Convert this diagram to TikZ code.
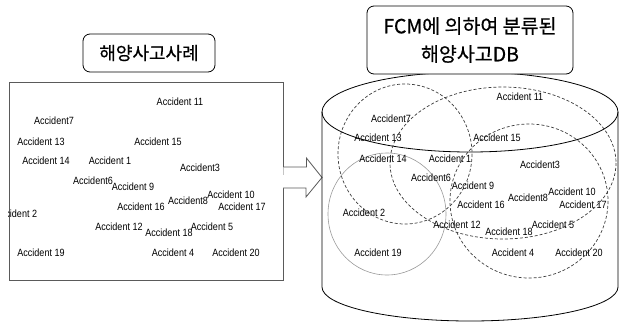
\documentclass[tikz,border=0pt]{standalone}
\usepackage{fontspec}
\newfontfamily\accfont[FakeStretch=0.86]{Liberation Sans}
\newfontfamily\krfont[FakeBold=0.6]{Noto Sans CJK KR}
\definecolor{framegray}{HTML}{5A5A5A}
\definecolor{clustergray}{HTML}{3C3C3C}
\definecolor{ringgray}{HTML}{9A9A9A}
\tikzset{
  acc/.style={font=\accfont\fontsize{10.5}{12}\selectfont, inner sep=0pt},
  titlebox/.style={draw, thick, rounded corners=7pt, fill=white, align=center,
    font=\krfont, inner sep=2pt},
  cluster/.style={clustergray, dash pattern=on 3pt off 2pt, line width=0.7pt},
}
\begin{document}
\begin{tikzpicture}[x=1pt, y=-1pt, line width=0.8pt]
  \useasboundingbox (0,0) rectangle (627,322);

  % left panel: accident cases
  \node[draw=framegray, minimum width=274pt, minimum height=198pt, inner sep=0pt] (cases) at (146,181) {};
  \begin{scope}
    \clip (cases.south west) rectangle (cases.north east);
    \foreach \n/\t/\x/\y in {11/Accident 11/180/102, 7/Accident7/54/121, 13/Accident 13/41/142,
        15/Accident 15/158/142, 14/Accident 14/46/161, 1/Accident 1/110/161, 3/Accident3/200/168,
        6/Accident6/93/181, 9/Accident 9/133/187, 8/Accident8/188/201, 10/Accident 10/231/195,
        16/Accident 16/141/207, 17/Accident 17/242/207, 2/Accident 2/16/214, 12/Accident 12/119/227,
        18/Accident 18/169/233, 5/Accident 5/212/227, 19/Accident 19/41/253, 4/Accident 4/173/253,
        20/Accident 20/236/253}
      \node[acc] (L\n) at (\x,\y) {\t};
  \end{scope}
  \node[titlebox, minimum width=132pt, minimum height=38pt, font=\krfont\fontsize{18}{20}\selectfont] (casesTitle) at (149,53) {해양사고사례};

  % block arrow
  \coordinate (arrTail) at (cases.east |- 0,177.5);
  \draw[framegray, fill=white] (arrTail) ++(0,-10.5) -- ++(23,0) -- ++(0,-9) -- (322,177.5)
    -- (306,197) -- ++(0,-9) -- ++(-23,0);

  % right panel: database cylinder
  \draw (322,112) -- (322,287) arc[start angle=180, end angle=0, x radius=148, y radius=34] -- (618,112);
  \draw (470,112) ellipse [x radius=148, y radius=40];

  % clusters
  \draw[cluster] (405,154) ellipse [x radius=67, y radius=70];
  \draw[cluster] (503,163) ellipse [x radius=113, y radius=76];
  \draw[cluster] (529,201) ellipse [x radius=79, y radius=77];
  \draw[ringgray, line width=0.6pt] (387,214) ellipse [x radius=59, y radius=61];

  \foreach \n/\t/\x/\y in {11/Accident 11/520/97, 7/Accident7/391/119, 13/Accident 13/378/138,
      15/Accident 15/497/138, 14/Accident 14/383/159, 1/Accident 1/450/159, 3/Accident3/540/165,
      6/Accident6/431/178, 9/Accident 9/473/186, 10/Accident 10/572/192, 8/Accident8/528/198,
      16/Accident 16/481/205, 17/Accident 17/583/205, 2/Accident 2/364/213, 12/Accident 12/457/225,
      18/Accident 18/509/232, 5/Accident 5/553/225, 19/Accident 19/378/253, 4/Accident 4/513/253,
      20/Accident 20/579/253}
    \node[acc] (R\n) at (\x,\y) {\t};

  \node[titlebox, minimum width=206pt, minimum height=68pt, font=\krfont\fontsize{19.5}{28}\selectfont] (dbTitle) at (470,40) {FCM에 의하여 분류된\\해양사고DB};
\end{tikzpicture}
\end{document}
